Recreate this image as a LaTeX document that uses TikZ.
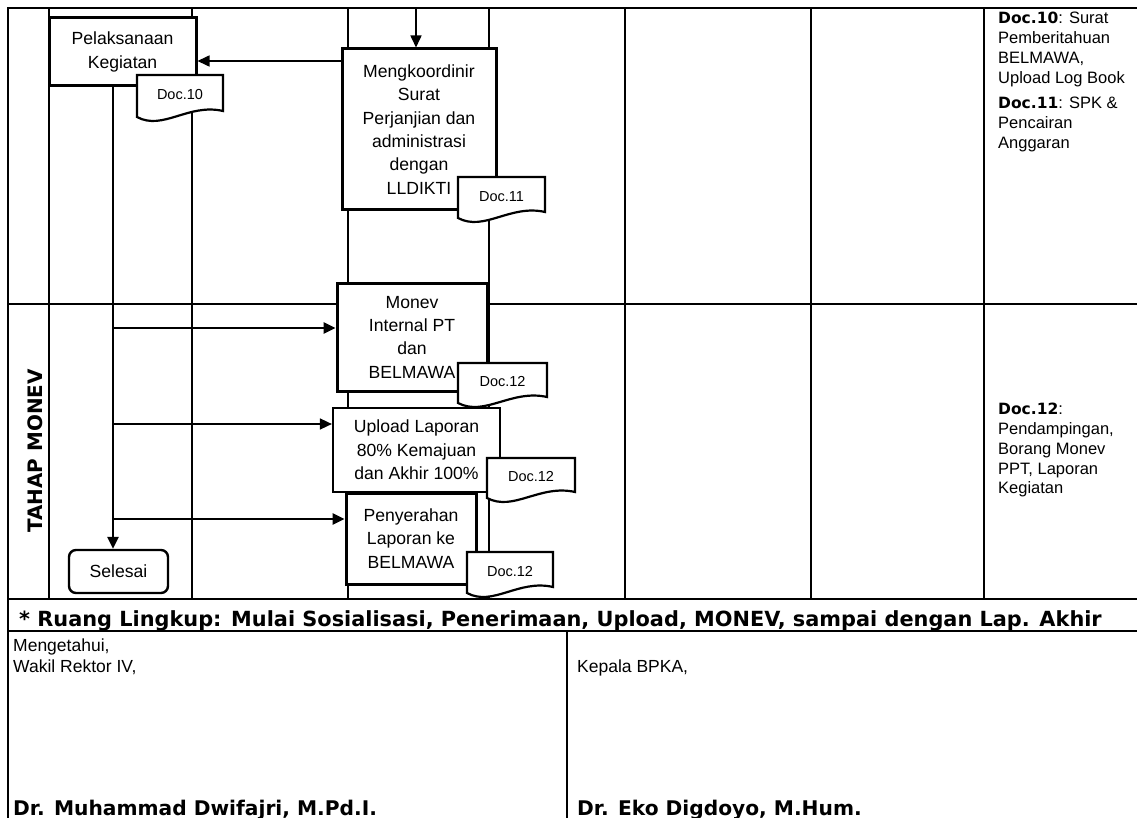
\documentclass[tikz,border=0pt]{standalone}
\usepackage{fontspec}
\setmainfont{Liberation Sans}
\newfontfamily\dvb{DejaVu Sans}
\usetikzlibrary{arrows.meta,calc}
\newcommand\boxfont{\fontsize{17.6}{23.3}\selectfont}
\newcommand\docfont{\fontsize{14.5}{16}\selectfont}
\newcommand\rtfont{\fontsize{16.5}{19.8}\selectfont}
\newcommand\rb[1]{{\dvb\bfseries\fontsize{15.5}{19.8}\selectfont #1}}
\newcommand\docsh[6]{%
  \draw[docline] (#2,#3) -- (#4,#3) -- (#4,#5-6)
    .. controls ({#2+0.6*(#4-#2)},#5-14) and ({#2+0.3*(#4-#2)},#5+14) .. (#2,#5) -- cycle;
  \node[doctext] (#1) at ({(#2+#4)/2},{(#3+#5)/2-1}) {#6};}
\tikzset{
  gridline/.style={line width=1.2pt},
  box/.style={draw, fill=white, line width=3pt, align=center, inner sep=0pt, font=\boxfont},
  thinbox/.style={box, line width=2.2pt},
  docline/.style={fill=white, line width=2.2pt},
  doctext/.style={font=\docfont, inner sep=0pt},
  arr/.style={-{Triangle[length=12pt,width=11pt]}, line width=2.6pt},
  tarr/.style={-{Triangle[length=12pt,width=11pt]}, line width=1.6pt},
  term/.style={draw, fill=white, rounded corners=7pt, line width=2.4pt, inner sep=0pt, font=\boxfont},
  rtext/.style={align=left, inner sep=0pt, font=\rtfont, anchor=north west},
  sig/.style={inner sep=0pt, font=\fontsize{17.5}{20}\selectfont, anchor=base west},
  sigb/.style={inner sep=0pt, font=\dvb\bfseries\fontsize{20.2}{22}\selectfont, anchor=base west},
}
\begin{document}
\begin{tikzpicture}[x=1pt,y=-1pt]
\useasboundingbox (0,0) rectangle (1137,818);
\fill[white] (0,0) rectangle (1137,818);
% grid
\draw[gridline] (8,818) -- (8,8) -- (1137,8);
\foreach \yy in {304,599,631} \draw[gridline] (8,\yy) -- (1137,\yy);
\foreach \xx in {49,192,348,489,625,811,984} \draw[gridline] (\xx,8) -- (\xx,599);
\draw[gridline] (567,631) -- (567,818);
% phase label
\node[rotate=90, inner sep=0pt, font=\dvb\bfseries\fontsize{19.9}{20}\selectfont] (tm) at (35,451) {TAHAP MONEV};
% boxes
\node[box, minimum width=147pt, minimum height=68pt] (pk) at (122.5,52) {Pelaksanaan\\Kegiatan};
\node[box, minimum width=154pt, minimum height=161pt] (mk) at (419,129.5) {Mengkoordinir\\Surat\\Perjanjian dan\\administrasi\\dengan\\LLDIKTI};
\node[box, minimum width=150pt, minimum height=108pt] (mo) at (412,337) {Monev\\Internal PT\\dan\\BELMAWA};
\node[thinbox, minimum width=167pt, minimum height=84pt] (up) at (416.5,450) {Upload Laporan\\80\% Kemajuan\\dan Akhir 100\%};
\node[box, minimum width=130pt, minimum height=91pt] (pe) at (411,538.5) {Penyerahan\\Laporan ke\\BELMAWA};
\node[term, minimum width=99pt, minimum height=43pt] (sel) at (118.5,571.5) {Selesai};
% documents
\docsh{d10}{137}{75}{223}{117}{Doc.10}
\docsh{d11}{458}{177}{545}{218}{Doc.11}
\docsh{d12a}{458}{363}{547}{403}{Doc.12}
\docsh{d12b}{487}{458}{575}{498}{Doc.12}
\docsh{d12c}{467}{552}{553}{593}{Doc.12}
% connectors
\coordinate (vx) at (113,0);
\coordinate (top) at (416,8);
\coordinate (ya) at (0,61);
\coordinate (y1) at (0,328);
\coordinate (y2) at (0,424);
\coordinate (y3) at (0,519);
\draw[tarr] (top) -- (top |- mk.north);
\draw[tarr] (mk.west |- ya) -- (pk.east |- ya);
\draw[arr] (pk.south -| vx) -- (sel.north -| vx);
\draw[arr] (vx |- y1) -- (mo.west |- y1);
\draw[tarr] (vx |- y2) -- (up.west |- y2);
\draw[arr] (vx |- y3) -- (pe.west |- y3);
% right column
\node[rtext] (n10) at (998,12) {\rb{Doc.10}: Surat\\Pemberitahuan\\BELMAWA,\\Upload Log Book};
\node[rtext] (n11) at (998,97) {\rb{Doc.11}: SPK \&\\Pencairan\\Anggaran};
\node[rtext] (n12) at (998,403) {\rb{Doc.12}:\\Pendampingan,\\Borang Monev\\PPT, Laporan\\Kegiatan};
% bottom
\node[sigb, font=\dvb\bfseries\fontsize{20.85}{22}\selectfont] (rl) at (19,626) {* Ruang Lingkup: Mulai Sosialisasi, Penerimaan, Upload, MONEV, sampai dengan Lap. Akhir};
\node[sig] (m1) at (13,651) {Mengetahui,};
\node[sig] (m2) at (13,672) {Wakil Rektor IV,};
\node[sig] (k1) at (577,672) {Kepala BPKA,};
\node[sigb] (s1) at (13,815) {Dr. Muhammad Dwifajri, M.Pd.I.};
\node[sigb] (s2) at (577,815) {Dr. Eko Digdoyo, M.Hum.};
\end{tikzpicture}
\end{document}
